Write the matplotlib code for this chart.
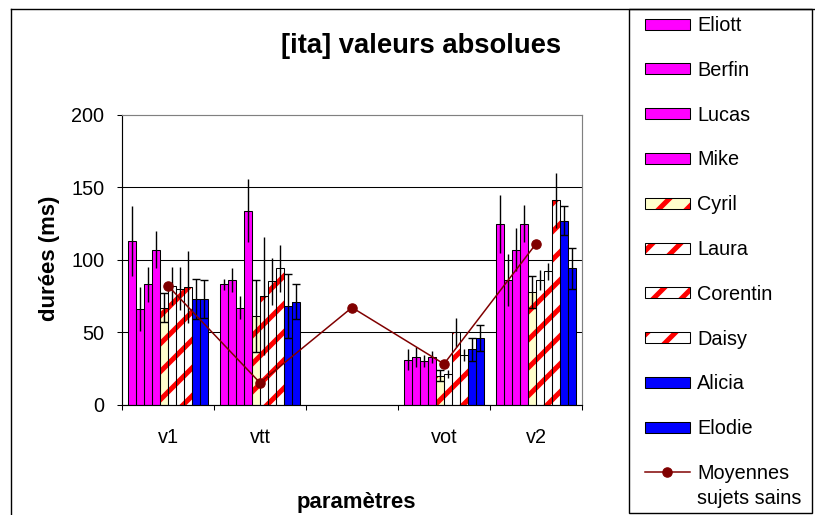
import numpy as np
import matplotlib.pyplot as plt
from matplotlib.patches import Rectangle
from matplotlib.lines import Line2D

plt.rcParams['font.family'] = ['Liberation Sans', 'DejaVu Sans']
plt.rcParams['hatch.linewidth'] = 4.3

# parameters on the x axis (third slot is empty in the original sheet)
categories = ['v1', 'vtt', '', 'vot', 'v2']
subjects = ['Eliott', 'Berfin', 'Lucas', 'Mike', 'Cyril', 'Laura',
            'Corentin', 'Daisy', 'Alicia', 'Elodie']

# durations (ms) per subject
eliott = [113, 83, np.nan, 31, 125]
berfin = [66, 86, np.nan, 33, 86]
lucas = [83, 67, np.nan, 30, 107]
mike = [107, 134, np.nan, 33, 125]
cyril = [67, 61, np.nan, 20, 78]
laura = [82, 75, np.nan, 21, 86]
corentin = [80, 85, np.nan, 50, 92]
daisy = [81, 94, np.nan, 34, 141]
alicia = [73, 68, np.nan, 38, 127]
elodie = [73, 71, np.nan, 46, 94]

# standard deviations (ms)
eliott_sd = [24, 4, np.nan, 7, 20]
berfin_sd = [15, 8, np.nan, 7, 18]
lucas_sd = [12, 8, np.nan, 4, 15]
mike_sd = [13, 22, np.nan, 4, 13]
cyril_sd = [10, 25, np.nan, 4, 11]
laura_sd = [13, 41, np.nan, 3, 7]
corentin_sd = [15, 16, np.nan, 10, 6]
daisy_sd = [25, 16, np.nan, 4, 19]
alicia_sd = [14, 22, np.nan, 8, 10]
elodie_sd = [13, 12, np.nan, 9, 14]

# mean of healthy subjects
moyennes_sains = [82, 15, 67, 28, 111]

values = [eliott, berfin, lucas, mike, cyril, laura, corentin, daisy, alicia, elodie]
sds = [eliott_sd, berfin_sd, lucas_sd, mike_sd, cyril_sd, laura_sd,
       corentin_sd, daisy_sd, alicia_sd, elodie_sd]

# bar styles
faces = ['#FF00FF'] * 4 + ['#FFFFCC'] + ['white'] * 3 + ['#0000FF'] * 2
hatches = [None] * 4 + ['/'] * 4 + [None] * 2
caps = [0, 0, 0, 0, 3.5, 0, 0, 0, 3.5, 3.5]

W, H, DPI = 815, 515, 84
fig = plt.figure(figsize=(W / DPI, H / DPI), dpi=DPI)
ax = fig.add_axes([122 / W, (H - 404.5) / H, 460 / W, 289.5 / H])

n = len(subjects)
w = 0.87 / n
x = np.arange(len(categories))
for j in range(n):
    xs = x + (j - (n - 1) / 2) * w
    ax.bar(xs, values[j], w, color=faces[j], hatch=hatches[j],
           edgecolor='red', linewidth=0, zorder=2)
    ax.bar(xs, values[j], w, fill=False, edgecolor='black', linewidth=0.9, zorder=3)
    ax.errorbar(xs, values[j], yerr=sds[j], fmt='none', ecolor='black',
                elinewidth=1.2, capsize=caps[j], capthick=1.2, zorder=4)

ax.plot(x, moyennes_sains, color='#800000', lw=1.3, marker='o', ms=8, zorder=5)

ax.set_xlim(-0.5, len(categories) - 0.5)
ax.set_ylim(0, 200)
ax.set_yticks([0, 50, 100, 150, 200])
ax.yaxis.grid(True, color='black', lw=0.9, zorder=1)
ax.get_ygridlines()[-1].set_visible(False)
ax.set_axisbelow(True)

ax.set_xticks(np.arange(len(categories) + 1) - 0.5)
ax.set_xticklabels([])
ax.set_xticks(x, minor=True)
ax.set_xticklabels(categories, minor=True)
ax.tick_params(axis='x', which='major', length=4.3, width=0.9, direction='out')
ax.tick_params(axis='x', which='minor', length=0, pad=20.5, labelsize=17)
ax.tick_params(axis='y', length=4.3, width=0.9, pad=11, labelsize=17)

for s in ['left', 'bottom']:
    ax.spines[s].set_color('black')
    ax.spines[s].set_linewidth(1.0)
for s in ['top', 'right']:
    ax.spines[s].set_color('#808080')
    ax.spines[s].set_linewidth(1.0)

fig.text(421 / W, 1 - 53 / H, '[ita] valeurs absolues', fontsize=23.5,
         weight='bold', ha='center', va='baseline')
fig.text(49 / W, 1 - 258 / H, 'durées (ms)', fontsize=19, weight='bold',
         rotation=90, ha='center', va='center')
fig.text(356 / W, 1 - 508 / H, 'paramètres', fontsize=19, weight='bold',
         ha='center', va='baseline')

# overlay in pixel units for the chart border and the legend
lax = fig.add_axes([0, 0, 1, 1], zorder=10)
lax.set_xlim(0, W)
lax.set_ylim(H, 0)
lax.axis('off')
lax.patch.set_alpha(0)
lax.add_line(Line2D([11, 11], [9, H], color='black', lw=1.2))
lax.add_line(Line2D([11, W], [9, 9], color='black', lw=1.2))
lax.add_patch(Rectangle((629, 9), 183, 504, fill=False, edgecolor='black', lw=1.2))

for j, name in enumerate(subjects):
    yc = 24 + 44.8 * j
    lax.add_patch(Rectangle((645, yc - 5.5), 45, 11, facecolor=faces[j],
                            hatch=hatches[j], edgecolor='red', lw=0))
    lax.add_patch(Rectangle((645, yc - 5.5), 45, 11, fill=False,
                            edgecolor='black', lw=0.9))
    lax.text(697, yc + 7, name, fontsize=17, va='baseline', ha='left')

yc = 24 + 44.8 * n
lax.add_line(Line2D([645, 690], [yc, yc], color='#800000', lw=1.3))
lax.add_line(Line2D([667], [yc], color='#800000', marker='o', ms=8))
lax.text(697, yc + 7, 'Moyennes', fontsize=17, va='baseline', ha='left')
lax.text(697, yc + 32, 'sujets sains', fontsize=17, va='baseline', ha='left')

fig.savefig('out.png', dpi=DPI)
